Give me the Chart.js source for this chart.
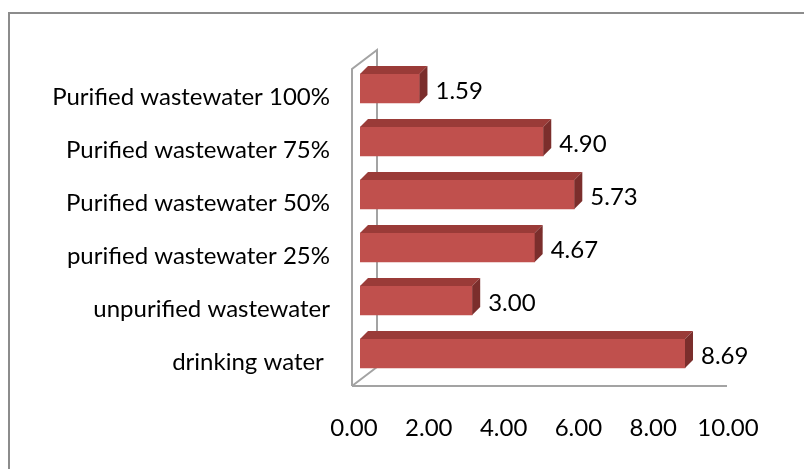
<!DOCTYPE html>
<html>
<head>
<meta charset="utf-8">
<script src="https://cdn.jsdelivr.net/npm/chart.js@4.4.0/dist/chart.umd.min.js"></script>
<style>
  html, body { margin: 0; padding: 0; background: #fff; }
  #wrap { position: relative; width: 804px; height: 469px; overflow: hidden; }
  #frame { position: absolute; left: 8px; top: 12px; width: 900px; height: 600px;
           border-left: 2px solid #8c8c8c; border-top: 2px solid #8c8c8c; }
  canvas { position: absolute; left: 0; top: 0; }
</style>
</head>
<body>
<div id="wrap">
  <div id="frame"></div>
  <canvas id="chart" width="804" height="469"></canvas>
</div>
<script>
// datos
const categorias = [
  'Purified wastewater 100%',
  'Purified wastewater 75%',
  'Purified wastewater 50%',
  'purified wastewater 25%',
  'unpurified wastewater',
  'drinking water '
];
const valores = [1.59, 4.90, 5.73, 4.67, 3.00, 8.69];
const ejeX = { min: 0, max: 10, paso: 2 };

const fuente = { family: 'Lato, "Noto Sans", sans-serif', size: 24 };

// efecto 3D: paredes, piso y caras de las barras
const efecto3D = {
  id: 'efecto3D',
  beforeDatasetsDraw(chart) {
    const { ctx, chartArea: a } = chart;
    const x0 = a.left - 8, y0 = a.top + 7, dx = 25, dy = 19;
    const yb = a.bottom + 6;
    ctx.save();
    ctx.strokeStyle = '#a3a3a3';
    ctx.lineWidth = 2;
    ctx.beginPath();
    ctx.moveTo(x0, yb); ctx.lineTo(x0, y0); ctx.lineTo(x0 + dx, y0 - dy); ctx.lineTo(x0 + dx, yb - dy);
    ctx.moveTo(x0, yb); ctx.lineTo(x0 + dx, yb - dy);
    ctx.moveTo(x0, yb); ctx.lineTo(a.right - 7, yb);
    ctx.stroke();
    ctx.restore();
  },
  afterDatasetsDraw(chart) {
    const { ctx } = chart;
    const d = 8;
    chart.getDatasetMeta(0).data.forEach((bar, i) => {
      const top = bar.y - bar.height / 2, bot = bar.y + bar.height / 2;
      ctx.save();
      ctx.fillStyle = '#9a3b38';
      ctx.beginPath();
      ctx.moveTo(bar.base, top); ctx.lineTo(bar.base + d, top - d);
      ctx.lineTo(bar.x + d, top - d); ctx.lineTo(bar.x, top); ctx.closePath();
      ctx.fill();
      ctx.fillStyle = '#7b2e2c';
      ctx.beginPath();
      ctx.moveTo(bar.x, top); ctx.lineTo(bar.x + d, top - d);
      ctx.lineTo(bar.x + d, bot - d); ctx.lineTo(bar.x, bot); ctx.closePath();
      ctx.fill();
      ctx.fillStyle = '#000';
      ctx.font = fuente.size + 'px ' + fuente.family;
      ctx.textBaseline = 'middle';
      ctx.textAlign = 'left';
      ctx.fillText(valores[i].toFixed(2), bar.x + d + 8, bar.y + 3);
      ctx.restore();
    });
  }
};

new Chart(document.getElementById('chart'), {
  type: 'bar',
  data: {
    labels: categorias,
    datasets: [{
      data: valores,
      backgroundColor: '#c0504d',
      borderWidth: 0,
      barThickness: 29
    }]
  },
  options: {
    indexAxis: 'y',
    responsive: false,
    animation: false,
    layout: { padding: { top: 62, right: 70, left: 0, bottom: 0 } },
    plugins: { legend: { display: false }, tooltip: { enabled: false } },
    scales: {
      x: {
        min: ejeX.min, max: ejeX.max,
        grid: { display: false, drawTicks: false },
        border: { display: false },
        ticks: {
          stepSize: ejeX.paso,
          color: '#000',
          font: fuente,
          padding: 34,
          labelOffset: -6,
          callback: v => v.toFixed(2)
        },
        afterFit: s => { s.height = 89; }
      },
      y: {
        grid: { display: false, drawTicks: false },
        border: { display: false },
        ticks: { color: '#000', font: fuente, padding: 30, labelOffset: 9 },
        afterFit: s => { s.width = 360; }
      }
    }
  },
  plugins: [efecto3D]
});
</script>
</body>
</html>
